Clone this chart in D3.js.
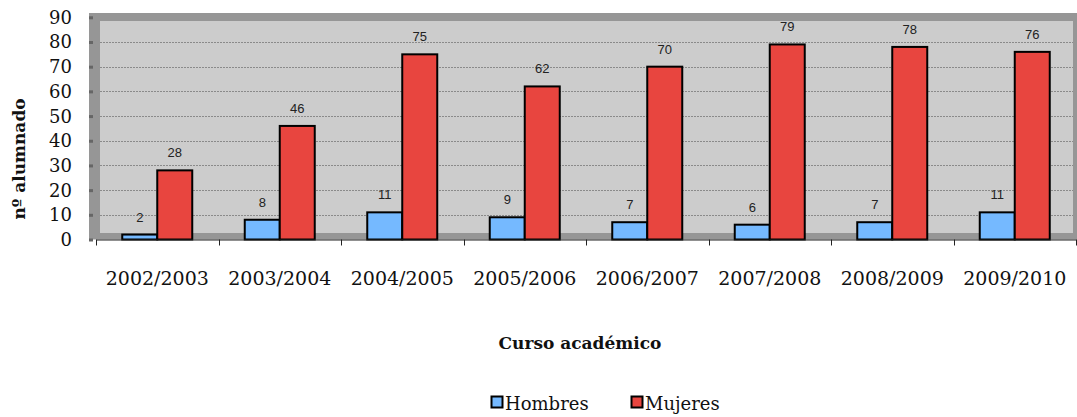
<!DOCTYPE html>
<html>
<head>
<meta charset="utf-8">
<script src="https://cdn.jsdelivr.net/npm/d3@7"></script>
<style>
  body { margin: 0; background: #fff; }
  svg { display: block; }
  .value-label { font-family: "Liberation Sans", Arial, sans-serif; font-size: 13px; fill: #222; }
  .y-axis text { font-family: "DejaVu Serif", serif; font-size: 18px; fill: #111; }
  .x-axis text { font-family: "DejaVu Serif", serif; font-size: 19px; fill: #111; }
  .axis-title { font-family: "DejaVu Serif", serif; font-size: 17px; font-weight: bold; fill: #111; }
  .legend text { font-family: "DejaVu Serif", serif; font-size: 18px; fill: #111; }
</style>
</head>
<body>
<svg id="chart" width="1077" height="417"></svg>
<script>
// data
const cursos = ['2002/2003', '2003/2004', '2004/2005', '2005/2006', '2006/2007', '2007/2008', '2008/2009', '2009/2010'];
const hombres = [2, 8, 11, 9, 7, 6, 7, 11];
const mujeres = [28, 46, 75, 62, 70, 79, 78, 76];
const yTicks = [0, 10, 20, 30, 40, 50, 60, 70, 80, 90];
const series = ['Hombres', 'Mujeres'];
const colors = { 'Hombres': '#75b9ff', 'Mujeres': '#e8453f' };

function render()
{
    const svg = d3.select('#chart');

    const plot = { left: 89, top: 13, right: 1077, bottom: 239.5 };
    const inner = { left: 100, top: 21, right: 1073, bottom: 233 };

    const xScale = d3.scaleBand()
        .domain(cursos)
        .range([96, 1076])
        .padding(0);

    const subScale = d3.scaleBand()
        .domain(series)
        .range([0, xScale.bandwidth()])
        .paddingInner(0)
        .paddingOuter(0.75);

    const yScale = d3.scaleLinear()
        .domain([0, 90])
        .range([239.5, 17.3]);

    // walls (3D look of the original)
    svg.append('rect')
        .attr('x', plot.left)
        .attr('y', plot.top)
        .attr('width', plot.right - plot.left)
        .attr('height', plot.bottom - plot.top)
        .attr('fill', '#969696');

    svg.append('rect')
        .attr('x', inner.left)
        .attr('y', inner.top)
        .attr('width', inner.right - inner.left)
        .attr('height', inner.bottom - inner.top)
        .attr('fill', '#cccccc');

    // gridlines
    svg.append('g')
        .selectAll('line')
        .data(yTicks.filter(t => t > 0 && t < 90))
        .enter()
        .append('line')
        .attr('x1', inner.left)
        .attr('x2', inner.right)
        .attr('y1', d => Math.round(yScale(d)) + 0.5)
        .attr('y2', d => Math.round(yScale(d)) + 0.5)
        .attr('stroke', '#8a8a8a')
        .attr('stroke-width', 1)
        .attr('stroke-dasharray', '2,1');

    // y axis labels + small notches on the wall
    const yAxis = svg.append('g')
        .attr('class', 'y-axis')
        .attr('transform', 'translate(93,0)')
        .call(d3.axisLeft(yScale)
            .tickValues(yTicks)
            .tickFormat(d3.format('d'))
            .tickSize(4)
            .tickPadding(17)
        );
    yAxis.select('.domain').remove();
    yAxis.selectAll('.tick line')
        .attr('stroke', '#666')
        .attr('stroke-width', 3);
    yAxis.selectAll('.tick text').attr('dy', '0.33em');

    // bars
    const groups = svg.append('g')
        .selectAll('g')
        .data(cursos)
        .enter()
        .append('g')
        .attr('transform', d => `translate(${xScale(d)},0)`);

    series.forEach(function(s){
        const values = s === 'Hombres' ? hombres : mujeres;
        groups.append('rect')
            .attr('x', subScale(s))
            .attr('y', (d, i) => yScale(values[i]))
            .attr('width', subScale.bandwidth())
            .attr('height', (d, i) => yScale(0) - yScale(values[i]))
            .attr('fill', colors[s])
            .attr('stroke', '#000')
            .attr('stroke-width', 2);

        groups.append('text')
            .attr('class', 'value-label')
            .attr('text-anchor', 'middle')
            .attr('x', subScale(s) + subScale.bandwidth() / 2)
            .attr('y', (d, i) => yScale(values[i]) - 13)
            .text((d, i) => values[i]);
    });

    // x axis
    const xAxis = svg.append('g')
        .attr('class', 'x-axis')
        .attr('transform', `translate(0,${yScale(0)})`)
        .call(d3.axisBottom(xScale)
            .tickSize(0)
            .tickPadding(32)
        );
    xAxis.select('.domain')
        .attr('stroke', '#222')
        .attr('stroke-width', 1);

    // category boundary ticks
    const bounds = cursos.map(c => xScale(c)).concat([xScale.range()[1]]);
    xAxis.append('g')
        .selectAll('line')
        .data(bounds)
        .enter()
        .append('line')
        .attr('x1', d => Math.round(d) + 0.5)
        .attr('x2', d => Math.round(d) + 0.5)
        .attr('y1', 0)
        .attr('y2', 6)
        .attr('stroke', '#222');

    // axis titles
    svg.append('text')
        .attr('class', 'axis-title')
        .attr('transform', 'translate(25,159) rotate(-90)')
        .attr('text-anchor', 'middle')
        .text('nº alumnado');

    svg.append('text')
        .attr('class', 'axis-title')
        .attr('x', 580)
        .attr('y', 349)
        .attr('text-anchor', 'middle')
        .text('Curso académico');

    // legend
    const legendX = { 'Hombres': 491, 'Mujeres': 631 };
    const legend = svg.append('g')
        .attr('class', 'legend')
        .selectAll('g')
        .data(series)
        .enter()
        .append('g')
        .attr('transform', d => `translate(${legendX[d]},396)`);

    legend.append('rect')
        .attr('width', 11)
        .attr('height', 11)
        .attr('x', 0.5)
        .attr('y', 0.5)
        .attr('fill', d => colors[d])
        .attr('stroke', '#000')
        .attr('stroke-width', 2);

    legend.append('text')
        .attr('x', 14)
        .attr('y', 14)
        .text(d => d);
}

render();
</script>
</body>
</html>
